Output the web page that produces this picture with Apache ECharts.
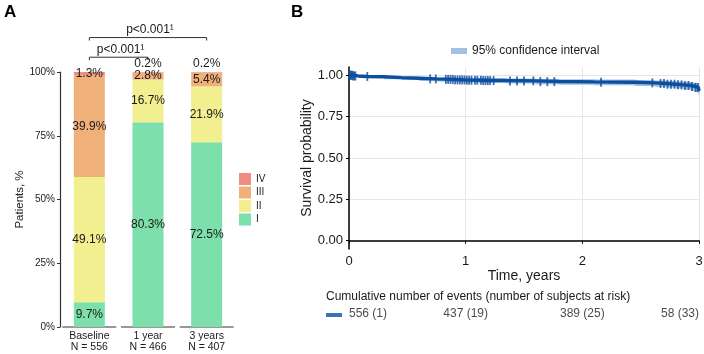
<!DOCTYPE html>
<html>
<head>
<meta charset="utf-8">
<script src="https://cdn.jsdelivr.net/npm/echarts@6/dist/echarts.min.js"></script>
<style>
html, body { margin: 0; padding: 0; background: #fff; }
#chart { width: 704px; height: 354px; }
</style>
</head>
<body>
<div id="chart"></div>
<script>
// panel A: stage distribution per visit
const categories = ["Baseline", "1 year", "3 years"]
const nPatients = [556, 466, 407]
const stageI = [9.7, 80.3, 72.5]
const stageII = [49.1, 16.7, 21.9]
const stageIII = [39.9, 2.8, 5.4]
const stageIV = [1.3, 0.2, 0.2]
const pctTicks = [0, 25, 50, 75, 100]
// [from category, to category, bracket level in %]
const comparisons = [[0, 2, 113.5], [0, 1, 105.8]]
const compLabels = ["p<0.001¹", "p<0.001¹"]

// panel B: Kaplan-Meier estimate
const kmTime = [0, 0.03, 0.08, 0.16, 0.30, 0.45, 0.60, 0.75, 0.90, 1.00, 1.15, 1.35, 1.60, 1.80, 2.10, 2.45, 2.62, 2.72, 2.80, 2.87, 2.93, 2.97, 2.995, 3.0]
const kmSurv = [1.000, 0.996, 0.993, 0.991, 0.986, 0.982, 0.978, 0.975, 0.972, 0.970, 0.968, 0.966, 0.962, 0.960, 0.958, 0.954, 0.950, 0.946, 0.942, 0.938, 0.932, 0.926, 0.915, 0.905]
const ciLow = [1.000, 0.991, 0.986, 0.983, 0.976, 0.971, 0.966, 0.962, 0.958, 0.955, 0.953, 0.950, 0.945, 0.943, 0.940, 0.935, 0.930, 0.925, 0.920, 0.914, 0.906, 0.898, 0.884, 0.872]
const ciHigh = [1.000, 1.000, 1.000, 0.998, 0.994, 0.991, 0.988, 0.986, 0.984, 0.983, 0.982, 0.980, 0.977, 0.976, 0.974, 0.971, 0.968, 0.965, 0.962, 0.960, 0.956, 0.952, 0.944, 0.937]
const censorTimes = [0.005, 0.012, 0.02, 0.028, 0.036, 0.045, 0.055, 0.157, 0.696, 0.744,
    0.83, 0.85, 0.87, 0.89, 0.91, 0.93, 0.95, 0.97, 0.99, 1.01, 1.03, 1.05, 1.08, 1.10,
    1.13, 1.15, 1.17, 1.19, 1.21, 1.24, 1.38, 1.44, 1.50, 1.58, 1.64, 1.70, 1.76, 2.16,
    2.60, 2.67, 2.70, 2.73, 2.76, 2.79, 2.82, 2.85, 2.88, 2.91, 2.94, 2.97, 2.99]
const survTicks = [0, 0.25, 0.5, 0.75, 1]
const timeTicks = [0, 1, 2, 3]

// risk table under panel B
const riskHeader = "Cumulative number of events (number of subjects at risk)"
const riskTime = [0, 1, 2, 3]
const riskText = ["556 (1)", "437 (19)", "389 (25)", "58 (33)"]

const font = "Liberation Sans, Arial, sans-serif"
const ink = "#1a1a1a"
const stageColors = { I: "#7ddfab", II: "#f1ef8f", III: "#f0b07a", IV: "#ef8e7e" }
const kmColor = "#0c4f9e"
const ciColor = "#a3c0e2"
const riskAlign = ["left", "center", "center", "right"]

function survAt(t) {
    let s = kmSurv[0]
    for (let i = 0; i < kmTime.length; i++) {
        if (kmTime[i] <= t) s = kmSurv[i]
    }
    return s
}

const stages = [["I", stageI], ["II", stageII], ["III", stageIII], ["IV", stageIV]]
const barSeries = stages.map(([name, values]) => ({
    type: "bar",
    name,
    stack: "stage",
    barWidth: 31,
    xAxisIndex: 0,
    yAxisIndex: 0,
    itemStyle: { color: stageColors[name] },
    label: {
        show: true,
        position: "inside",
        formatter: p => p.value.toFixed(1) + "%",
        fontSize: 12,
        fontFamily: font,
        color: ink,
    },
    data: values.map(v => {
        // tiny slices get their label above the bar
        if (name === "IV" && v < 1) {
            return { value: v, label: { position: "top", distance: 2 } }
        }
        return v
    }),
}))

const chart = echarts.init(document.getElementById("chart"), null, { renderer: "canvas" })

chart.setOption({
    animation: false,
    backgroundColor: "#fff",
    textStyle: { fontFamily: font },
    grid: [
        { left: 60, top: 72, width: 176, bottom: 27, outerBoundsMode: "none" },
        { left: 349, top: 67, right: 5, bottom: 105, outerBoundsMode: "none" },
        { left: 349, top: 300, right: 5, height: 28, outerBoundsMode: "none" },
    ],
    legend: [
        {
            data: ["IV", "III", "II", "I"],
            orient: "vertical",
            left: 239,
            top: 173,
            padding: 0,
            itemWidth: 12,
            itemHeight: 12,
            itemGap: 1.5,
            icon: "rect",
            selectedMode: false,
            textStyle: { fontSize: 10, color: ink, fontFamily: font },
        },
        {
            data: ["95% confidence interval"],
            left: 451,
            top: 45,
            padding: 0,
            itemWidth: 16,
            itemHeight: 6,
            icon: "rect",
            selectedMode: false,
            textStyle: { fontSize: 12, color: ink, fontFamily: font },
        },
    ],
    xAxis: [
        {
            type: "category",
            gridIndex: 0,
            data: categories,
            axisLine: { show: false },
            axisTick: { show: false },
            axisLabel: {
                formatter: (v, i) => v + "\nN = " + nPatients[i],
                fontSize: 10.5,
                lineHeight: 11,
                margin: 4,
                color: ink,
            },
        },
        {
            type: "value",
            gridIndex: 1,
            min: 0,
            max: 3,
            interval: 1,
            axisLine: { show: true, lineStyle: { color: "#000", width: 1.5 } },
            axisTick: { show: true, length: 3, lineStyle: { color: "#000" } },
            axisLabel: { fontSize: 13, margin: 6, color: ink },
            splitLine: { show: true, lineStyle: { color: "#e6e6e6", width: 1 } },
            name: "Time, years",
            nameLocation: "middle",
            nameGap: 20,
            nameMoveOverlap: false,
            nameTextStyle: { fontSize: 14, color: ink },
        },
        { type: "value", gridIndex: 2, min: 0, max: 3, show: false },
    ],
    yAxis: [
        {
            type: "value",
            gridIndex: 0,
            min: 0,
            max: 100,
            interval: 25,
            axisLine: { show: true, lineStyle: { color: "#333", width: 1.2 } },
            axisTick: { show: true, length: 3, lineStyle: { color: "#333" } },
            axisLabel: { formatter: "{value}%", fontSize: 10, margin: 5, color: ink },
            splitLine: { show: false },
            name: "Patients, %",
            nameLocation: "middle",
            nameGap: 33,
            nameTextStyle: { fontSize: 11.5, color: ink },
        },
        {
            type: "value",
            gridIndex: 1,
            min: -0.05,
            max: 1.05,
            axisLine: { show: true, lineStyle: { color: "#000", width: 1.5 } },
            axisTick: { show: true, length: 3, customValues: survTicks, lineStyle: { color: "#000" } },
            axisLabel: {
                customValues: survTicks,
                formatter: v => v.toFixed(2),
                fontSize: 13,
                margin: 6,
                color: ink,
            },
            splitLine: { show: true, lineStyle: { color: "#e6e6e6", width: 1 } },
            name: "Survival probability",
            nameLocation: "middle",
            nameGap: 35,
            nameTextStyle: { fontSize: 14, color: ink },
        },
        { type: "value", gridIndex: 2, min: 0, max: 1, show: false },
    ],
    series: [
        ...barSeries,
        {
            // x axis drawn as one segment per category
            type: "custom",
            name: "axis",
            xAxisIndex: 0,
            yAxisIndex: 0,
            silent: true,
            clip: false,
            data: categories.map((c, i) => [i, 0]),
            encode: { x: 0, y: 1 },
            renderItem: (params, api) => {
                const p = api.coord([api.value(0), 0])
                const w = api.size([1, 0])[0] * 0.46
                return {
                    type: "line",
                    shape: { x1: p[0] - w, y1: p[1], x2: p[0] + w, y2: p[1] },
                    style: { stroke: "#333", lineWidth: 1.2 },
                }
            },
        },
        {
            // significance brackets
            type: "custom",
            name: "brackets",
            xAxisIndex: 0,
            yAxisIndex: 0,
            silent: true,
            clip: false,
            data: comparisons,
            encode: { x: [0, 1], y: 2 },
            renderItem: (params, api) => {
                const a = api.coord([api.value(0), api.value(2)])
                const b = api.coord([api.value(1), api.value(2)])
                return {
                    type: "group",
                    children: [
                        {
                            type: "polyline",
                            shape: { points: [[a[0], a[1] + 3], a, b, [b[0], b[1] + 3]] },
                            style: { stroke: "#333", lineWidth: 1, fill: "none" },
                        },
                        {
                            type: "text",
                            x: (a[0] + b[0]) / 2 + 2,
                            y: a[1] - 2,
                            style: {
                                text: compLabels[params.dataIndex],
                                align: "center",
                                verticalAlign: "bottom",
                                fontSize: 12,
                                fontFamily: font,
                                fill: ink,
                            },
                        },
                    ],
                }
            },
        },
        {
            type: "custom",
            name: "95% confidence interval",
            xAxisIndex: 1,
            yAxisIndex: 1,
            silent: true,
            itemStyle: { color: ciColor },
            data: kmTime.slice(0, -1).map((t, i) => [t, kmTime[i + 1], ciLow[i], ciHigh[i]]),
            encode: { x: [0, 1], y: [2, 3] },
            renderItem: (params, api) => {
                const p1 = api.coord([api.value(0), api.value(3)])
                const p2 = api.coord([api.value(1), api.value(2)])
                return {
                    type: "rect",
                    shape: { x: p1[0], y: p1[1], width: p2[0] - p1[0] + 0.6, height: p2[1] - p1[1] },
                    style: { fill: ciColor },
                }
            },
        },
        {
            type: "line",
            name: "Survival",
            xAxisIndex: 1,
            yAxisIndex: 1,
            step: "end",
            showSymbol: false,
            silent: true,
            data: kmTime.map((t, i) => [t, kmSurv[i]]),
            lineStyle: { color: kmColor, width: 3.4 },
            itemStyle: { color: kmColor },
            z: 3,
        },
        {
            type: "scatter",
            name: "Censored",
            xAxisIndex: 1,
            yAxisIndex: 1,
            silent: true,
            symbol: "rect",
            symbolSize: [1.8, 9],
            itemStyle: { color: kmColor },
            data: censorTimes.map(t => [t, survAt(t)]),
            z: 4,
        },
        {
            type: "scatter",
            name: "riskSwatch",
            xAxisIndex: 2,
            yAxisIndex: 2,
            silent: true,
            symbol: "rect",
            symbolSize: [16, 4],
            symbolOffset: [-15, 1],
            itemStyle: { color: kmColor },
            data: [[riskTime[0], 0.5]],
        },
        {
            type: "scatter",
            name: "risk",
            xAxisIndex: 2,
            yAxisIndex: 2,
            silent: true,
            symbolSize: 0,
            data: riskTime.map((t, i) => ({
                value: [t, 0.5],
                label: { align: riskAlign[i] },
            })),
            label: {
                show: true,
                position: "inside",
                formatter: p => riskText[p.dataIndex],
                fontSize: 12,
                fontFamily: font,
                color: ink,
            },
        },
    ],
    graphic: [
        { type: "text", left: 4, top: 4, style: { text: "A", font: "bold 17px " + font, fill: "#000" } },
        { type: "text", left: 291, top: 4, style: { text: "B", font: "bold 17px " + font, fill: "#000" } },
        { type: "text", left: 326, top: 291, style: { text: riskHeader, font: "12px " + font, fill: ink } },
    ],
})
</script>
</body>
</html>
